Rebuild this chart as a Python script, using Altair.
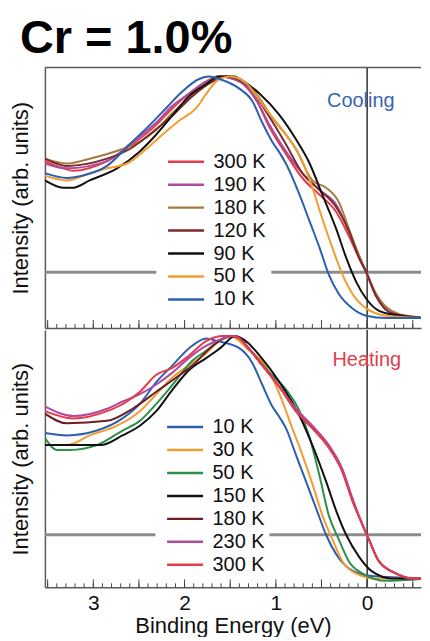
import altair as alt
import pandas as pd

FONT = "Liberation Sans"

# ---------------- data (binding energy in eV, normalised intensity) ----------------
COOL_ORDER = ["300 K", "190 K", "180 K", "120 K", "90 K", "50 K", "10 K"]
COOL_COLORS = ["#e63a4d", "#b04a9e", "#a67a40", "#7b2b2b", "#111111", "#f39c2f", "#2d5fb0"]

c300_e = [3.53, 3.33, 3.22, 2.85, 2.57, 2.31, 2.13, 1.95, 1.76, 1.62, 1.40, 1.21, 1.07, 0.89, 0.71, 0.52, 0.34, 0.20, 0.09, 0.01, -0.10, -0.27, -0.49, -0.68]
c300_i = [0.65, 0.62, 0.61, 0.65, 0.72, 0.80, 0.87, 0.93, 0.98, 1.00, 0.98, 0.90, 0.79, 0.68, 0.58, 0.51, 0.44, 0.34, 0.25, 0.19, 0.09, 0.02, 0.00, 0.00]
c190_e = [3.53, 3.29, 2.85, 2.57, 2.31, 2.13, 1.95, 1.76, 1.62, 1.40, 1.21, 1.07, 0.89, 0.71, 0.52, 0.34, 0.20, 0.09, 0.01, -0.10, -0.27, -0.49, -0.68]
c190_i = [0.64, 0.62, 0.65, 0.73, 0.81, 0.88, 0.93, 0.98, 1.00, 0.98, 0.90, 0.80, 0.69, 0.60, 0.53, 0.47, 0.36, 0.26, 0.19, 0.09, 0.02, 0.00, 0.00]
c180_e = [3.53, 3.29, 3.04, 2.68, 2.49, 2.31, 2.13, 1.95, 1.76, 1.65, 1.50, 1.26, 1.04, 0.78, 0.60, 0.45, 0.31, 0.20, 0.09, 0.01, -0.10, -0.27, -0.57, -0.68]
c180_i = [0.66, 0.64, 0.66, 0.70, 0.73, 0.78, 0.85, 0.91, 0.97, 1.00, 1.00, 0.95, 0.83, 0.70, 0.57, 0.54, 0.48, 0.37, 0.26, 0.19, 0.10, 0.03, 0.00, 0.00]
c120_e = [3.53, 3.29, 2.85, 2.60, 2.35, 2.13, 1.91, 1.69, 1.55, 1.30, 1.10, 0.89, 0.71, 0.52, 0.34, 0.20, 0.09, 0.01, -0.10, -0.27, -0.68]
c120_i = [0.66, 0.63, 0.66, 0.70, 0.77, 0.84, 0.92, 0.98, 1.00, 0.96, 0.85, 0.72, 0.60, 0.53, 0.46, 0.36, 0.25, 0.19, 0.09, 0.02, 0.00]
c90_e = [3.53, 3.33, 3.22, 3.04, 2.74, 2.49, 2.31, 2.13, 1.95, 1.76, 1.62, 1.45, 1.40, 1.18, 0.96, 0.78, 0.63, 0.49, 0.34, 0.23, 0.12, 0.01, -0.13, -0.35, -0.68]
c90_i = [0.57, 0.54, 0.54, 0.57, 0.62, 0.69, 0.76, 0.84, 0.92, 0.97, 1.00, 1.00, 0.99, 0.93, 0.84, 0.74, 0.64, 0.51, 0.37, 0.25, 0.15, 0.08, 0.03, 0.01, 0.00]
c50_e = [3.53, 3.29, 3.04, 2.85, 2.63, 2.42, 2.24, 2.05, 1.87, 1.76, 1.62, 1.50, 1.32, 1.10, 0.89, 0.71, 0.60, 0.49, 0.38, 0.27, 0.16, 0.01, -0.21, -0.68]
c50_i = [0.59, 0.57, 0.60, 0.62, 0.64, 0.70, 0.76, 0.82, 0.87, 0.93, 0.99, 1.00, 0.97, 0.86, 0.76, 0.65, 0.54, 0.41, 0.29, 0.18, 0.10, 0.04, 0.01, 0.00]
c10_e = [3.53, 3.29, 3.11, 2.85, 2.60, 2.38, 2.20, 2.02, 1.84, 1.73, 1.62, 1.40, 1.26, 1.15, 1.04, 0.96, 0.89, 0.74, 0.63, 0.52, 0.42, 0.31, 0.16, 0.01, -0.21, -0.68]
c10_i = [0.60, 0.58, 0.59, 0.63, 0.72, 0.80, 0.87, 0.94, 0.99, 1.00, 0.99, 0.95, 0.90, 0.81, 0.73, 0.685, 0.64, 0.51, 0.40, 0.29, 0.18, 0.10, 0.04, 0.01, 0.00, 0.00]

HEAT_ORDER = ["10 K", "30 K", "50 K", "150 K", "180 K", "230 K", "300 K"]
HEAT_COLORS = ["#2d5fb0", "#f39c2f", "#2e8f4a", "#111111", "#6e1f24", "#b04a9e", "#e63a4d"]

h10_e = [3.53, 3.29, 2.96, 2.68, 2.49, 2.31, 2.13, 1.95, 1.76, 1.65, 1.40, 1.26, 1.15, 1.04, 0.96, 0.89, 0.78, 0.67, 0.56, 0.45, 0.34, 0.23, 0.09, -0.05, -0.68]
h10_i = [0.60, 0.59, 0.61, 0.66, 0.72, 0.81, 0.88, 0.95, 0.99, 0.98, 0.95, 0.89, 0.80, 0.71, 0.665, 0.62, 0.51, 0.40, 0.29, 0.18, 0.10, 0.05, 0.02, 0.01, 0.00]
h30_e = [3.53, 3.29, 3.04, 2.74, 2.49, 2.31, 2.13, 1.95, 1.76, 1.62, 1.50, 1.42, 1.32, 1.10, 0.96, 0.82, 0.71, 0.60, 0.49, 0.38, 0.27, 0.12, -0.10, -0.68]
h30_i = [0.55, 0.55, 0.59, 0.63, 0.69, 0.76, 0.83, 0.88, 0.93, 0.98, 1.00, 0.985, 0.95, 0.87, 0.76, 0.62, 0.51, 0.39, 0.26, 0.16, 0.07, 0.02, 0.00, 0.00]
h50_e = [3.53, 3.40, 3.26, 2.96, 2.68, 2.49, 2.31, 2.13, 1.91, 1.76, 1.62, 1.45, 1.38, 1.32, 1.07, 0.89, 0.74, 0.63, 0.52, 0.42, 0.31, 0.20, 0.05, -0.21, -0.68]
h50_i = [0.58, 0.53, 0.53, 0.55, 0.61, 0.65, 0.72, 0.80, 0.90, 0.94, 0.98, 1.00, 0.985, 0.96, 0.85, 0.78, 0.69, 0.58, 0.42, 0.26, 0.16, 0.07, 0.02, -0.01, 0.00]
h150_e = [3.53, 3.22, 2.92, 2.68, 2.49, 2.31, 2.13, 1.95, 1.76, 1.58, 1.50, 1.45, 1.40, 1.30, 1.18, 0.96, 0.74, 0.60, 0.45, 0.34, 0.23, 0.09, -0.05, -0.27, -0.68]
h150_i = [0.55, 0.55, 0.55, 0.59, 0.63, 0.69, 0.78, 0.86, 0.91, 0.96, 0.99, 1.00, 0.995, 0.97, 0.92, 0.81, 0.67, 0.55, 0.40, 0.28, 0.18, 0.09, 0.03, 0.00, 0.00]
h180_e = [3.53, 3.29, 2.85, 2.57, 2.31, 2.05, 1.91, 1.69, 1.50, 1.40, 1.30, 1.15, 0.96, 0.78, 0.60, 0.42, 0.27, 0.16, 0.05, -0.02, -0.13, -0.32, -0.49, -0.68]
h180_i = [0.68, 0.64, 0.65, 0.70, 0.77, 0.84, 0.88, 0.96, 1.00, 0.99, 0.95, 0.88, 0.79, 0.69, 0.62, 0.54, 0.44, 0.32, 0.22, 0.16, 0.07, 0.02, 0.00, 0.00]
h230_e = [3.53, 3.22, 2.85, 2.68, 2.49, 2.31, 2.13, 1.95, 1.76, 1.58, 1.45, 1.40, 1.30, 1.15, 0.96, 0.78, 0.60, 0.42, 0.27, 0.16, 0.05, -0.02, -0.13, -0.32, -0.49, -0.68]
h230_i = [0.71, 0.67, 0.70, 0.73, 0.76, 0.80, 0.85, 0.91, 0.96, 0.99, 1.00, 0.99, 0.95, 0.88, 0.79, 0.70, 0.63, 0.55, 0.45, 0.33, 0.22, 0.16, 0.07, 0.02, 0.00, 0.00]
h300_e = [3.53, 3.22, 2.85, 2.63, 2.49, 2.31, 2.13, 1.95, 1.76, 1.58, 1.45, 1.40, 1.30, 1.15, 0.96, 0.78, 0.60, 0.42, 0.27, 0.16, 0.05, -0.02, -0.13, -0.32, -0.49, -0.68]
h300_i = [0.69, 0.66, 0.69, 0.73, 0.77, 0.84, 0.87, 0.92, 0.98, 1.00, 1.00, 0.99, 0.95, 0.88, 0.79, 0.69, 0.62, 0.54, 0.44, 0.32, 0.22, 0.16, 0.07, 0.02, 0.00, 0.00]

X_TICK_LABELS = [3, 2, 1, 0]
X_MAJOR = [3.5, 3.0, 2.5, 2.0, 1.5, 1.0, 0.5, 0.0, -0.5]
X_MINOR = [round(3.5 - 0.1 * k, 1) for k in range(41)]
FERMI = [0.0]
# grey reference level: two segments (broken behind the legend)
LEVEL_TOP = {"eV": [3.6, 1.05], "eV2": [2.31, -0.7], "I": [0.19, 0.19]}
LEVEL_BOT = {"eV": [3.6, 1.07], "eV2": [2.32, -0.7], "I": [0.18, 0.18]}
X_DOMAIN = [-0.59, 3.53]

cool_series = [("300 K", c300_e, c300_i), ("190 K", c190_e, c190_i), ("180 K", c180_e, c180_i),
               ("120 K", c120_e, c120_i), ("90 K", c90_e, c90_i), ("50 K", c50_e, c50_i), ("10 K", c10_e, c10_i)]
heat_series = [("10 K", h10_e, h10_i), ("30 K", h30_e, h30_i), ("50 K", h50_e, h50_i), ("150 K", h150_e, h150_i),
               ("180 K", h180_e, h180_i), ("230 K", h230_e, h230_i), ("300 K", h300_e, h300_i)]


def to_df(series):
    rows = []
    for k, (name, es, vs) in enumerate(series):
        for e, v in zip(es, vs):
            rows.append({"T": name, "eV": e, "I": v, "z": k})
    return pd.DataFrame(rows)


W = 377
AX = "#5a5a5a"


def panel(series, order, colors, label, label_color, level, ydom, height, bottom, legend_xy):
    xscale = alt.Scale(domain=X_DOMAIN, reverse=True, nice=False, zero=False)
    yscale = alt.Scale(domain=ydom, nice=False, zero=False)
    df = to_df(series)

    if bottom:
        xaxis = alt.Axis(orient="bottom", title="Binding Energy (eV)", values=X_TICK_LABELS, ticks=False, tickSize=0,
                         labelFontSize=21, labelPadding=5, labelColor="#111", titleFontSize=22, titlePadding=2,
                         titleFontWeight="normal", titleColor="#111", grid=False, domainColor=AX, domainWidth=1.5,
                         labelFont=FONT, titleFont=FONT, format="d")
    else:
        xaxis = alt.Axis(orient="bottom", title="", labels=False, ticks=False, grid=False,
                         domainColor=AX, domainWidth=1.5)

    yaxis = alt.Axis(orient="left", title="Intensity (arb. units)", labels=False, ticks=False, grid=False,
                     domainColor=AX, domainWidth=1.5, titleFontSize=22, titleFont=FONT,
                     titleFontWeight="normal", titleColor="#111", titlePadding=12)

    X = lambda: alt.X("eV:Q", scale=xscale, axis=xaxis)
    Y = lambda: alt.Y("I:Q", scale=yscale, axis=yaxis)

    lines = alt.Chart(df).mark_line(strokeWidth=2, clip=True, interpolate="monotone").encode(
        x=X(), y=Y(),
        color=alt.Color("T:N", sort=order, scale=alt.Scale(domain=order, range=colors),
                        legend=alt.Legend(orient="none", legendX=legend_xy[0], legendY=legend_xy[1], title=None,
                                          symbolType="stroke", symbolSize=1300, symbolStrokeWidth=2.5,
                                          labelFontSize=20, labelFont=FONT, labelColor="#111",
                                          padding=10, rowPadding=0, clipHeight=22.7, labelOffset=8)),
        order=alt.Order("z:Q"),
    )

    level_rule = alt.Chart(pd.DataFrame(level)).mark_rule(color="#8c8c8c", strokeWidth=3, clip=True).encode(
        x=X(), x2="eV2:Q", y=Y())

    fermi = alt.Chart(pd.DataFrame({"eV": FERMI})).mark_rule(color="#333333", strokeWidth=1.5).encode(x=X())

    minor = alt.Chart(pd.DataFrame({"eV": X_MINOR})).mark_rule(color="#444", strokeWidth=1).encode(
        x=X(), y=alt.value(height), y2=alt.value(height - 4))
    major = alt.Chart(pd.DataFrame({"eV": X_MAJOR})).mark_rule(color="#444", strokeWidth=1).encode(
        x=X(), y=alt.value(height), y2=alt.value(height - 8))

    txt = alt.Chart(pd.DataFrame({"eV": [label[1]], "I": [label[2]], "s": [label[0]]})).mark_text(
        align="left", baseline="middle", fontSize=20, font=FONT, color=label_color).encode(
        x=X(), y=Y(), text="s:N")

    layers = [level_rule, fermi, minor, major, lines, txt]
    if not bottom:
        # frame line along the top of the upper panel
        frame = alt.Chart(pd.DataFrame({"k": [0]})).mark_rule(color=AX, strokeWidth=1.5).encode(
            x=alt.value(0), x2=alt.value(W), y=alt.value(0))
        layers.append(frame)
    return alt.layer(*layers).properties(width=W, height=height)


top = panel(cool_series, COOL_ORDER, COOL_COLORS, ("Cooling", 0.44, 0.90), "#3566b3", LEVEL_TOP,
            [-0.041, 1.037], 261, False, (112, 73))
bot = panel(heat_series, HEAT_ORDER, HEAT_COLORS, ("Heating", 0.38, 0.90), "#e0404f", LEVEL_BOT,
            [-0.037, 1.025], 258, True, (111, 76))

chart = alt.vconcat(top, bot, spacing=0).resolve_scale(color="independent").properties(
    title=alt.TitleParams("Cr = 1.0%", font=FONT, fontSize=47, fontWeight="bold", anchor="start",
                          color="#000", offset=4, dx=10),
    padding={"left": 2, "top": 6, "right": 0, "bottom": 0},
).configure_view(stroke=None)

chart.save("out.html", embed_options={"renderer": "svg", "actions": False})
